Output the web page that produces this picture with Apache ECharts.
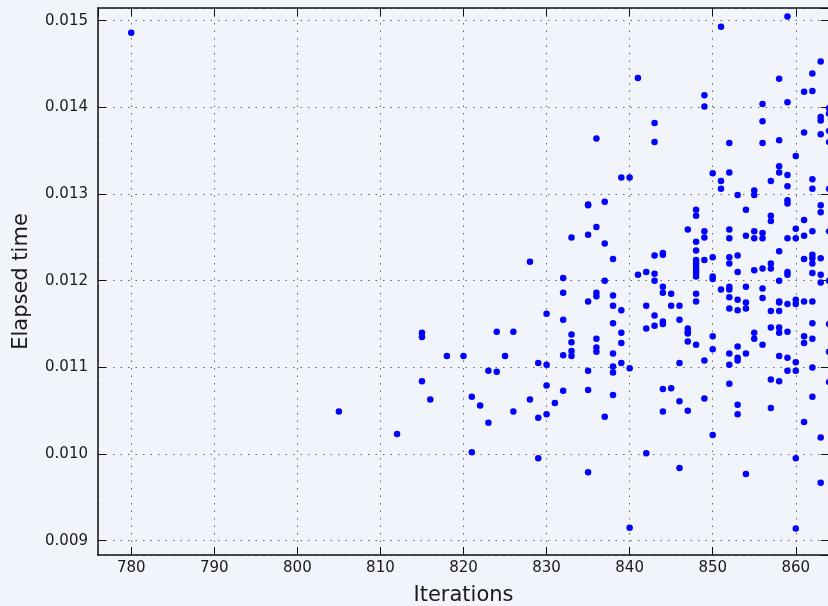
<!DOCTYPE html>
<html>
<head>
<meta charset="utf-8">
<style>
  html, body { margin: 0; padding: 0; background: #f1f4fa; }
  #chart { width: 828px; height: 606px; }
</style>
<script src="https://cdn.jsdelivr.net/npm/echarts@6.0.0/dist/echarts.min.js"></script>
</head>
<body>
<div id="chart"></div>
<script>
// Iteration counts, and the elapsed times measured for each of them
const iterations = [780, 805, 812, 815, 816, 818, 820, 821, 822, 823, 824, 825, 826, 828, 829, 830, 831, 832, 833, 835, 836, 837, 838, 839, 840, 841, 842, 843, 844, 845, 846, 847, 848, 849, 850, 851, 852, 853, 854, 855, 856, 857, 858, 859, 860, 861, 862, 863, 864];

const elapsedTimes = [
  [0.01486],
  [0.01049],
  [0.01023],
  [0.01140, 0.01135, 0.01084],
  [0.01063],
  [0.01113],
  [0.01113],
  [0.01066, 0.01002],
  [0.01056],
  [0.01096, 0.01036],
  [0.01141, 0.01095],
  [0.01113],
  [0.01141, 0.01049],
  [0.01222, 0.01063],
  [0.01105, 0.01042, 0.00995],
  [0.01162, 0.01103, 0.01079, 0.01046],
  [0.01059],
  [0.01203, 0.01186, 0.01155, 0.01114, 0.01073],
  [0.01250, 0.01138, 0.01129, 0.01119, 0.01113],
  [0.01288, 0.01287, 0.01253, 0.01176, 0.01096, 0.01074, 0.00979],
  [0.01364, 0.01262, 0.01186, 0.01182, 0.01133, 0.01123, 0.01118],
  [0.01291, 0.01243, 0.01200, 0.01043],
  [0.01225, 0.01183, 0.01171, 0.01151, 0.01116, 0.01101, 0.01094, 0.01068],
  [0.01319, 0.01166, 0.01140, 0.01128, 0.01105],
  [0.01319, 0.01099, 0.00915],
  [0.01434, 0.01207],
  [0.01210, 0.01171, 0.01145, 0.01001],
  [0.01382, 0.01360, 0.01229, 0.01208, 0.01200, 0.01160, 0.01148],
  [0.01232, 0.01230, 0.01193, 0.01186, 0.01153, 0.01150, 0.01075, 0.01049],
  [0.01185, 0.01171, 0.01076],
  [0.01171, 0.01155, 0.01105, 0.01061, 0.00984],
  [0.01259, 0.01145, 0.01141, 0.01139, 0.01130, 0.01050],
  [0.01282, 0.01275, 0.01245, 0.01235, 0.01224, 0.01220, 0.01216, 0.01212, 0.01209, 0.01205, 0.01185, 0.01176, 0.01126],
  [0.01414, 0.01401, 0.01257, 0.01250, 0.01224, 0.01108, 0.01064],
  [0.01324, 0.01227, 0.01205, 0.01202, 0.01136, 0.01121, 0.01022],
  [0.01493, 0.01315, 0.01306, 0.01190],
  [0.01359, 0.01325, 0.01259, 0.01249, 0.01227, 0.01220, 0.01193, 0.01190, 0.01181, 0.01168, 0.01116, 0.01103, 0.01081],
  [0.01299, 0.01229, 0.01210, 0.01178, 0.01166, 0.01124, 0.01111, 0.01108, 0.01057, 0.01046],
  [0.01282, 0.01252, 0.01193, 0.01175, 0.01168, 0.01116, 0.00977],
  [0.01304, 0.01299, 0.01257, 0.01249, 0.01212, 0.01140, 0.01133],
  [0.01404, 0.01384, 0.01359, 0.01255, 0.01249, 0.01214, 0.01191, 0.01180, 0.01126],
  [0.01315, 0.01275, 0.01269, 0.01220, 0.01214, 0.01165, 0.01146, 0.01086, 0.01053],
  [0.01433, 0.01362, 0.01332, 0.01325, 0.01234, 0.01200, 0.01176, 0.01175, 0.01165, 0.01146, 0.01140, 0.01113, 0.01084],
  [0.01505, 0.01406, 0.01322, 0.01309, 0.01293, 0.01289, 0.01249, 0.01210, 0.01207, 0.01173, 0.01141, 0.01111, 0.01096],
  [0.01344, 0.01260, 0.01249, 0.01178, 0.01173, 0.01106, 0.01096, 0.00995, 0.00914],
  [0.01418, 0.01371, 0.01270, 0.01252, 0.01225, 0.01176, 0.01136, 0.01128, 0.01037],
  [0.01439, 0.01419, 0.01317, 0.01306, 0.01257, 0.01230, 0.01226, 0.01220, 0.01209, 0.01176, 0.01151, 0.01133, 0.01100, 0.01066],
  [0.01453, 0.01389, 0.01385, 0.01369, 0.01287, 0.01279, 0.01226, 0.01207, 0.01198, 0.01019, 0.00967],
  [0.01399, 0.01393, 0.01373, 0.01360, 0.01306, 0.01257, 0.01200, 0.01150, 0.01118, 0.01083]
];

// Axis ranges
const xRange = [776, 864];
const yRange = [0.008835, 0.015147];

const points = [];
iterations.forEach(function (it, i) {
  elapsedTimes[i].forEach(function (t) { points.push([it, t]); });
});

const FONT = 'DejaVu Sans';
const INK = '#1a1a1a';
const spine = { show: true, onZero: false, lineStyle: { color: '#111', width: 1.5 } };
const tickIn = { show: true, inside: true, length: 8, lineStyle: { color: '#111', width: 1 } };
const dotted = { show: true, lineStyle: { color: '#666', width: 1, type: [1.5, 6] } };

const chart = echarts.init(document.getElementById('chart'), null, { renderer: 'canvas' });
chart.setOption({
  backgroundColor: '#f1f4fa',
  animation: false,
  grid: { left: 98, top: 8, width: 731, height: 547, outerBoundsMode: 'none', containLabel: false },
  xAxis: [
    {
      type: 'value', position: 'bottom',
      min: xRange[0], max: xRange[1], splitNumber: 9,
      axisLine: spine, axisTick: tickIn, splitLine: dotted,
      axisLabel: { show: true, margin: 6, color: INK, fontFamily: FONT, fontSize: 15, showMinLabel: false, showMaxLabel: false },
      name: 'Iterations', nameLocation: 'middle', nameGap: 30,
      nameTextStyle: { color: INK, fontFamily: FONT, fontSize: 21 }
    },
    {
      type: 'value', position: 'top',
      min: xRange[0], max: xRange[1], splitNumber: 9,
      axisLine: spine, axisTick: tickIn, splitLine: { show: false },
      axisLabel: { show: false }
    }
  ],
  yAxis: [
    {
      type: 'value', position: 'left',
      min: yRange[0], max: yRange[1], splitNumber: 6,
      axisLine: spine, axisTick: tickIn, splitLine: dotted,
      axisLabel: {
        show: true, margin: 10, color: INK, fontFamily: FONT, fontSize: 15,
        showMinLabel: false, showMaxLabel: false,
        formatter: function (v) { return v.toFixed(3); }
      },
      name: 'Elapsed time', nameLocation: 'middle', nameGap: 66,
      nameTextStyle: { color: INK, fontFamily: FONT, fontSize: 21 }
    },
    {
      type: 'value', position: 'right',
      min: yRange[0], max: yRange[1], splitNumber: 6,
      axisLine: spine, axisTick: tickIn, splitLine: { show: false },
      axisLabel: { show: false }
    }
  ],
  series: [{
    type: 'scatter',
    xAxisIndex: 0, yAxisIndex: 0,
    data: points,
    symbol: 'circle',
    symbolSize: 6.5,
    itemStyle: { color: '#0000ff', opacity: 1 },
    emphasis: { disabled: true }
  }]
});
</script>
</body>
</html>
